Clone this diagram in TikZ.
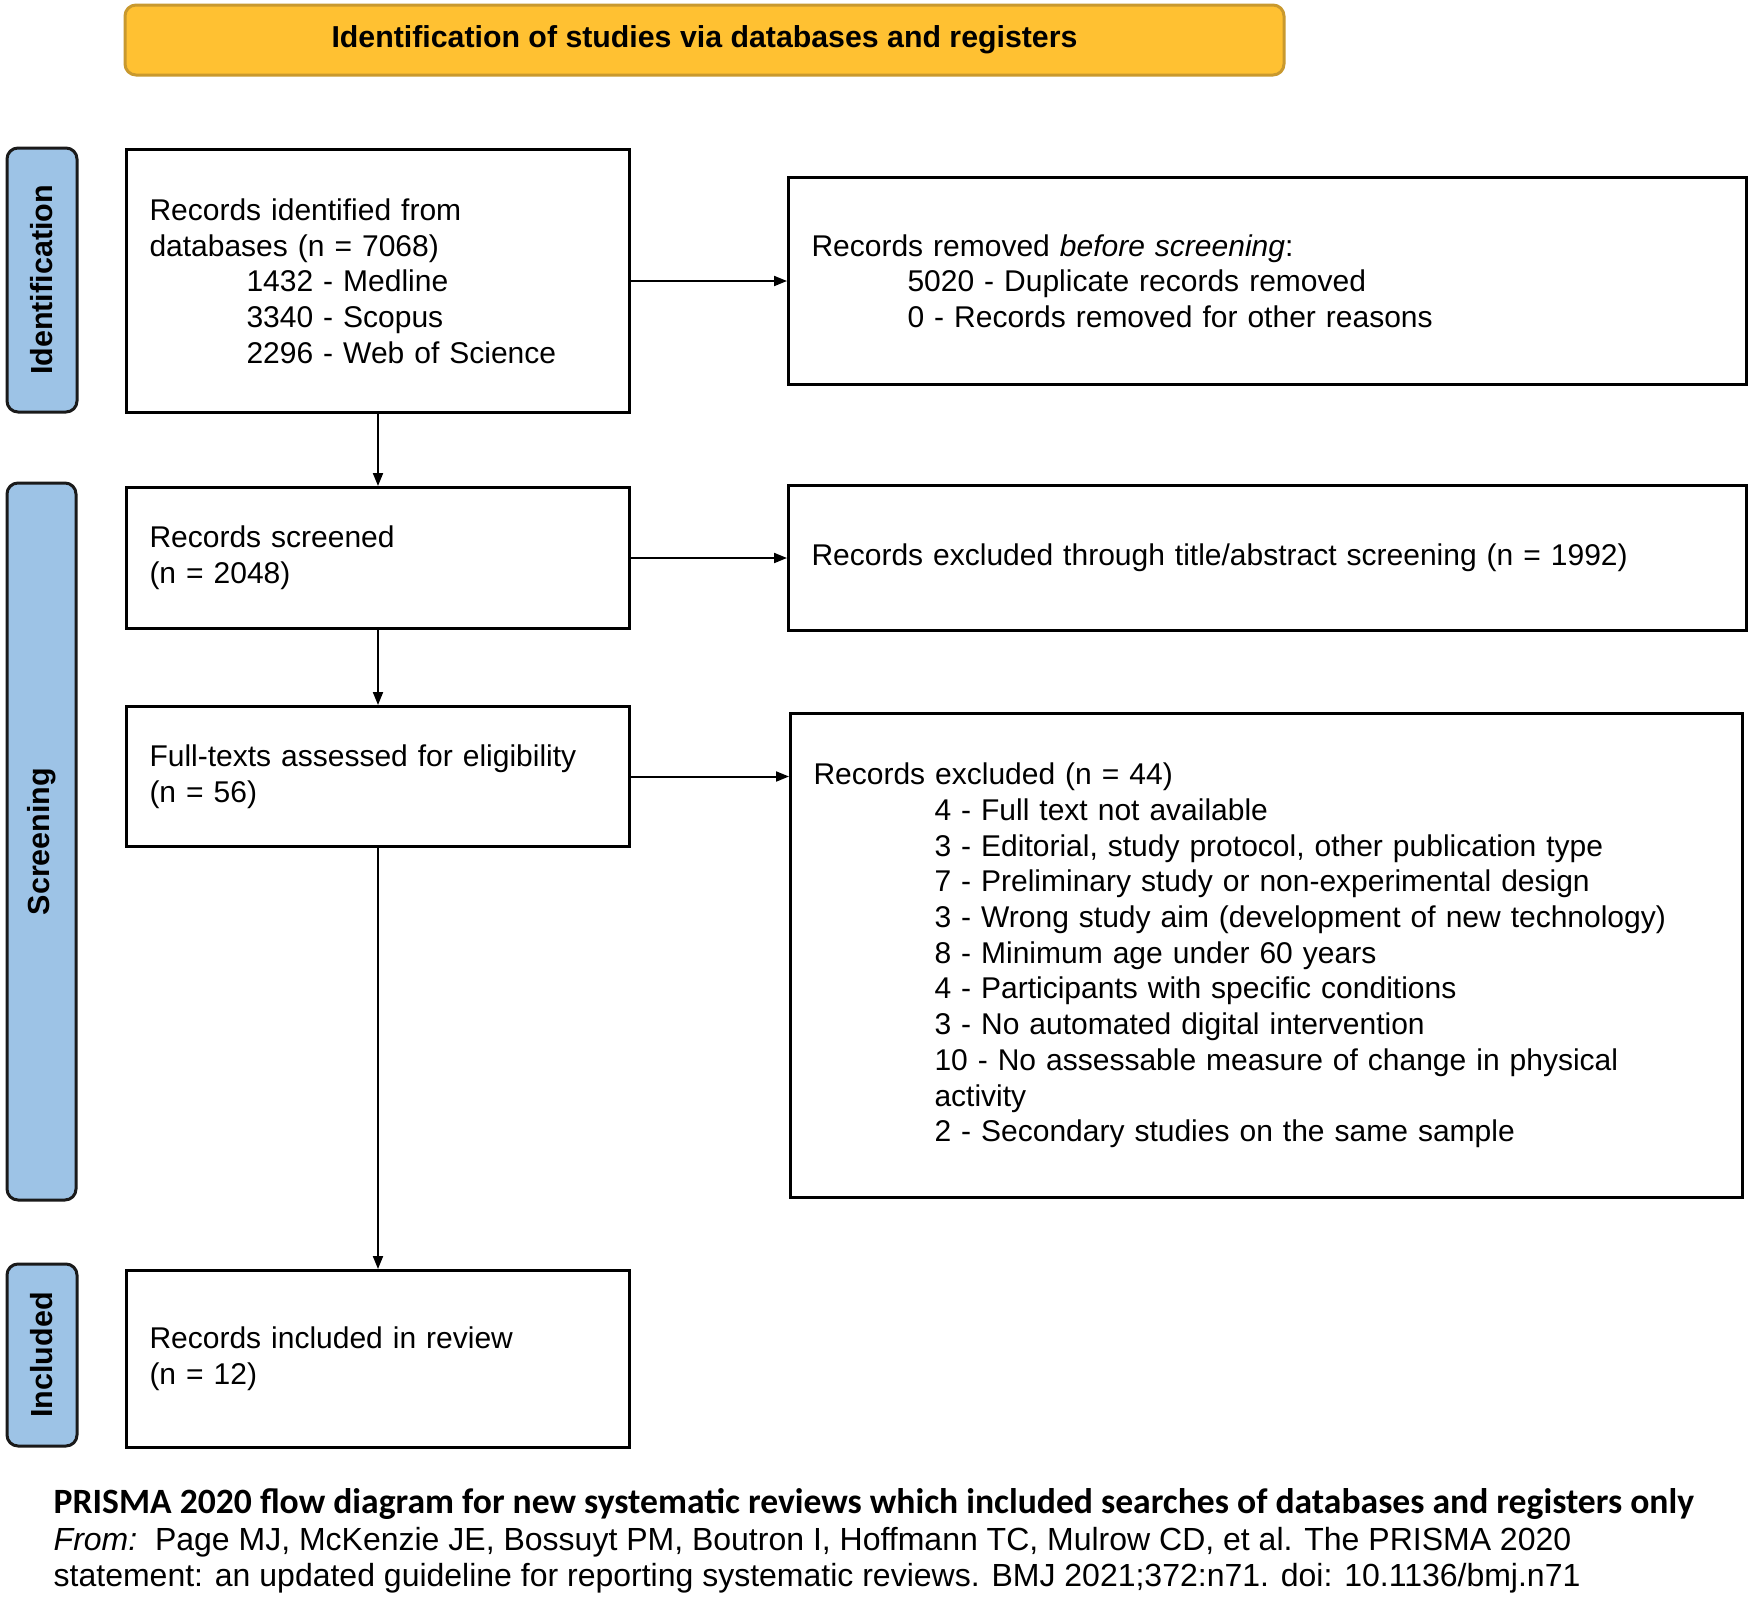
\documentclass[tikz,border=0pt]{standalone}
\usepackage{fontspec}
\setmainfont{Liberation Sans}
\newfontfamily\calibri{Carlito}
\usetikzlibrary{arrows.meta}
\definecolor{titlefill}{HTML}{FFC132}
\definecolor{titledraw}{HTML}{C9992E}
\definecolor{sidefill}{HTML}{9DC3E6}
\definecolor{sidedraw}{HTML}{1A1A1A}
\tikzset{
  x=1pt, y=-1pt,
  box/.style={draw=black, line width=3pt, fill=white, inner xsep=23pt, inner ysep=0pt,
    align=left, anchor=north west, font=\fontsize{30}{35.7}\selectfont},
  side/.style={draw=sidedraw, fill=sidefill, line width=3pt, rounded corners=11pt,
    rotate=90, inner sep=0pt, font=\fontsize{30.5}{34}\selectfont\bfseries},
  arr/.style={line width=2pt, -{Triangle[length=13pt,width=10pt]}},
}
\begin{document}
\begin{tikzpicture}
\useasboundingbox[fill=white] (0,0) rectangle (1748,1601);
% title
\node[draw=titledraw, fill=titlefill, line width=3pt, rounded corners=11pt,
  minimum width=1159pt, minimum height=70pt, inner sep=0pt,
  font=\fontsize{30.3}{36}\selectfont\bfseries] (title) at (704.5,40) {Identification of studies via databases and registers};
% side labels
\node[side, minimum width=264pt, minimum height=70pt] (sid) at (42,280) {Identification};
\node[side, minimum width=717pt, minimum height=69pt] (ssc) at (41.5,841.5) {Screening};
\node[side, minimum width=182pt, minimum height=70pt] (sin) at (42,1355) {Included};
% boxes
\node[box, text width=457pt, minimum height=263pt] (b1) at (125,148) {Records identified from\\databases (n = 7068)\\\hspace*{97pt}1432 - Medline\\\hspace*{97pt}3340 - Scopus\\\hspace*{97pt}2296 - Web of Science};
\node[box, text width=912pt, minimum height=207pt] (rem) at (787,176) {Records removed \textit{before screening}:\\\hspace*{96pt}5020 - Duplicate records removed\\\hspace*{96pt}0 - Records removed for other reasons};
\node[box, text width=457pt, minimum height=141pt] (scr) at (125,486) {Records screened\\(n = 2048)};
\node[box, text width=912pt, minimum height=145pt] (ext) at (787,484) {Records excluded through title/abstract screening (n = 1992)};
\node[box, text width=457pt, minimum height=140pt] (ft) at (125,705) {Full-texts assessed for eligibility\\(n = 56)};
\node[box, text width=906pt, minimum height=484pt] (ex) at (789,712) {Records excluded (n = 44)\\
\hspace*{121pt}4 - Full text not available\\
\hspace*{121pt}3 - Editorial, study protocol, other publication type\\
\hspace*{121pt}7 - Preliminary study or non-experimental design\\
\hspace*{121pt}3 - Wrong study aim (development of new technology)\\
\hspace*{121pt}8 - Minimum age under 60 years\\
\hspace*{121pt}4 - Participants with specific conditions\\
\hspace*{121pt}3 - No automated digital intervention\\
\hspace*{121pt}10 - No assessable measure of change in physical\\
\hspace*{121pt}activity\\
\hspace*{121pt}2 - Secondary studies on the same sample};
\node[box, text width=457pt, minimum height=177pt] (inc) at (125,1269) {Records included in review\\(n = 12)};
% connectors
\draw[arr] (b1.south) -- (scr.north);
\draw[arr] (b1.east) -- (rem.west);
\draw[arr] (scr.east) -- (ext.west);
\draw[arr] (scr.south) -- (ft.north);
\draw[arr] (ft.east) -- (ft.east -| ex.west);
\draw[arr] (ft.south) -- (inc.north);
% caption
\node[anchor=west, inner sep=0pt, font=\calibri\fontsize{35.6}{40}\selectfont\bfseries] (cap1) at (53.5,1504) {PRISMA 2020 flow diagram for new systematic reviews which included searches of databases and registers only};
\node[anchor=north west, inner sep=0pt, align=left, font=\fontsize{32}{35.7}\selectfont] (cap2) at (53.5,1527) {\textit{From:}\ \ Page MJ, McKenzie JE, Bossuyt PM, Boutron I, Hoffmann TC, Mulrow CD, et al. The PRISMA 2020\\statement: an updated guideline for reporting systematic reviews. BMJ 2021;372:n71. doi: 10.1136/bmj.n71};
\end{tikzpicture}
\end{document}
